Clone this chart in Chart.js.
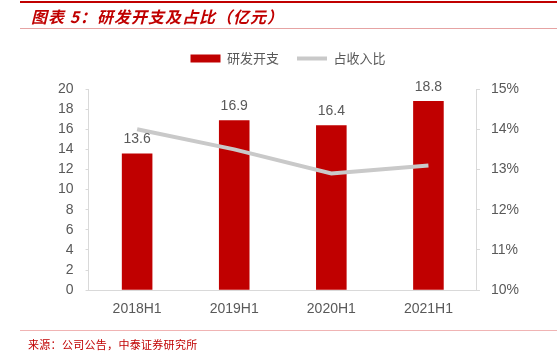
<!DOCTYPE html>
<html>
<head>
<meta charset="utf-8">
<script src="https://cdn.jsdelivr.net/npm/chart.js@4"></script>
<style>
  html, body { margin: 0; padding: 0; background: #fff; }
  #wrap { position: relative; width: 557px; height: 357px; overflow: hidden; }
  #c { position: absolute; left: 0; top: 0; }
  .topline { position: absolute; left: 20px; right: 0; top: 1px; height: 2px; background: #c00000; }
  .subline { position: absolute; left: 20px; right: 0; top: 28px; height: 1px; background: #e6a3a3; }
  .srcline { position: absolute; left: 20px; right: 0; top: 330px; height: 1px; background: #f0b4b4; }
  .title { position: absolute; left: 31px; top: 6px; font: italic bold 16px "Noto Sans CJK SC", sans-serif; color: #c00000; white-space: nowrap; line-height: 20px; letter-spacing: 1px; }
  .src { position: absolute; left: 28px; top: 336px; font: 11px "Noto Sans CJK SC", sans-serif; color: #c00000; white-space: nowrap; line-height: 16px; letter-spacing: 0.3px; }
</style>
</head>
<body>
<div id="wrap">
  <canvas id="c" width="557" height="357"></canvas>
  <div class="topline"></div>
  <div class="title">图表 5：研发开支及占比（亿元）</div>
  <div class="subline"></div>
  <div class="srcline"></div>
  <div class="src">来源：公司公告，中泰证券研究所</div>
</div>
<script>
const categories = ['2018H1', '2019H1', '2020H1', '2021H1'];
const rdSpend = [13.6, 16.9, 16.4, 18.8];
const rdRatio = [14.0, 13.5, 12.9, 13.1];
const seriesNames = ['研发开支', '占收入比'];

const valueLabels = {
  id: 'valueLabels',
  afterDatasetsDraw(chart) {
    const meta = chart.getDatasetMeta(1);
    const ctx = chart.ctx;
    ctx.save();
    ctx.font = '14px "Liberation Sans", Arial, sans-serif';
    ctx.fillStyle = '#595959';
    ctx.textAlign = 'center';
    ctx.textBaseline = 'middle';
    meta.data.forEach((bar, i) => {
      ctx.fillText(rdSpend[i].toFixed(1), bar.x, bar.y - 14);
    });
    ctx.restore();
  }
};

const legendGap = {
  id: 'legendGap',
  beforeInit(chart) {
    const origFit = chart.legend.fit;
    chart.legend.fit = function () {
      origFit.bind(chart.legend)();
      this.height += 14;
    };
  }
};

new Chart(document.getElementById('c'), {
  data: {
    labels: categories,
    datasets: [
      {
        type: 'line',
        label: seriesNames[1],
        data: rdRatio,
        yAxisID: 'y1',
        borderColor: '#c9c9c9',
        backgroundColor: '#c9c9c9',
        borderWidth: 4,
        pointRadius: 0,
        pointHoverRadius: 0,
        pointStyle: 'line',
        tension: 0,
        order: 0
      },
      {
        type: 'bar',
        label: seriesNames[0],
        data: rdSpend,
        yAxisID: 'y',
        backgroundColor: '#c00000',
        borderWidth: 0,
        pointStyle: 'rect',
        barPercentage: 0.63,
        categoryPercentage: 0.5,
        order: 1
      }
    ]
  },
  options: {
    responsive: false,
    animation: false,
    events: [],
    layout: { padding: { top: 34, bottom: 31, left: 46, right: 27 } },
    plugins: {
      tooltip: { enabled: false },
      legend: {
        position: 'top',
        reverse: true,
        labels: {
          usePointStyle: true,
          pointStyleWidth: 30,
          boxHeight: 8,
          padding: 18,
          color: '#595959',
          font: { family: '"Noto Sans CJK SC", sans-serif', size: 13 }
        }
      }
    },
    scales: {
      x: {
        grid: { display: false, drawTicks: true, tickLength: 3, color: '#d9d9d9' },
        border: { color: '#d9d9d9' },
        ticks: { color: '#595959', font: { family: '"Liberation Sans", Arial, sans-serif', size: 14 }, padding: 8 }
      },
      y: {
        position: 'left',
        min: 0, max: 20,
        grid: { display: true, drawOnChartArea: false, tickLength: 3, color: '#d9d9d9' },
        border: { color: '#d9d9d9' },
        ticks: { stepSize: 2, autoSkip: false, color: '#595959', font: { family: '"Liberation Sans", Arial, sans-serif', size: 14 }, padding: 12 }
      },
      y1: {
        position: 'right',
        min: 10, max: 15,
        grid: { display: true, drawOnChartArea: false, tickLength: 3, color: '#d9d9d9' },
        border: { color: '#d9d9d9' },
        ticks: { stepSize: 1, autoSkip: false, color: '#595959', font: { family: '"Liberation Sans", Arial, sans-serif', size: 14 }, padding: 11, callback: v => v + '%' }
      }
    }
  },
  plugins: [valueLabels, legendGap]
});
</script>
</body>
</html>
